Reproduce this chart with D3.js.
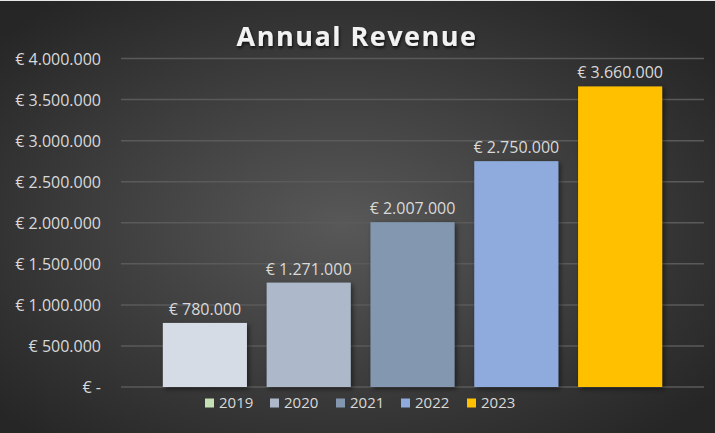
<!DOCTYPE html>
<html><head><meta charset="utf-8">
<script src="https://cdn.jsdelivr.net/npm/d3@7"></script>
<style>html,body{margin:0;padding:0;background:#333;}svg{display:block;}</style>
</head><body>
<script>
const years = ["2019","2020","2021","2022","2023"];
const revenue = [780000, 1271000, 2007000, 2750000, 3660000];
const barColors = ["#d6dce5","#adb9ca","#8497b0","#8faadc","#ffc000"];
const legendColors = ["#c5e0b4","#adb9ca","#8497b0","#8faadc","#ffc000"];
const yTicks = [0,500000,1000000,1500000,2000000,2500000,3000000,3500000,4000000];
const title = "Annual Revenue";

const W = 715, H = 433;
const svg = d3.select("body").append("svg").attr("width", W).attr("height", H);
const defs = svg.append("defs");
const rg = defs.append("radialGradient").attr("id","bg").attr("cx","48%").attr("cy","52%").attr("r","65%");
rg.append("stop").attr("offset","0%").attr("stop-color","#585858");
rg.append("stop").attr("offset","100%").attr("stop-color","#262626");
const sh = defs.append("filter").attr("id","sh").attr("x","-20%").attr("y","-20%").attr("width","150%").attr("height","150%");
sh.append("feDropShadow").attr("dx",2).attr("dy",2).attr("stdDeviation",2.5).attr("flood-color","#000").attr("flood-opacity",0.5);
const tsh = defs.append("filter").attr("id","tsh").attr("x","-10%").attr("y","-30%").attr("width","130%").attr("height","180%");
tsh.append("feDropShadow").attr("dx",1).attr("dy",2).attr("stdDeviation",1.5).attr("flood-color","#000").attr("flood-opacity",0.7);

svg.append("rect").attr("width",W).attr("height",H).attr("fill","url(#bg)");
svg.append("rect").attr("width",W).attr("height",1).attr("fill","#e8e8e8");

const y = d3.scaleLinear().domain([0,4000000]).range([387,58.5]);
const x = d3.scaleBand().domain(years).range([153,672]).paddingInner(0.19).paddingOuter(0.095);

const fmt = v => v === 0 ? "€ -" : "€ " + d3.format(",")(v).replace(/,/g,".");

// gridlines
svg.append("g").selectAll("line").data(yTicks).join("line")
  .attr("x1",121).attr("x2",704)
  .attr("y1",d=>y(d)).attr("y2",d=>y(d))
  .attr("stroke","#5a5a5a").attr("stroke-width",1.5);

// y axis labels
const yAxis = d3.axisLeft(y).tickValues(yTicks).tickFormat(fmt).tickSize(0).tickPadding(0);
const ga = svg.append("g").attr("transform","translate(101,0)").call(yAxis);
ga.select(".domain").remove();
ga.selectAll("text").attr("fill","#d9d9d9").attr("font-family","'Open Sans', sans-serif").attr("font-size","16px").attr("dy","0.35em");

// bars
svg.append("g").selectAll("rect").data(revenue).join("rect")
  .attr("x",(d,i)=>x(years[i])).attr("width",x.bandwidth())
  .attr("y",d=>y(d)).attr("height",d=>y(0)-y(d))
  .attr("fill",(d,i)=>barColors[i]).attr("filter","url(#sh)");

// data labels
svg.append("g").selectAll("text").data(revenue).join("text")
  .attr("x",(d,i)=>x(years[i])+x.bandwidth()/2).attr("y",d=>y(d)-8)
  .attr("text-anchor","middle").attr("fill","#d9d9d9")
  .attr("font-family","'Open Sans', sans-serif").attr("font-size","16px")
  .text(fmt);

// title
svg.append("text").attr("x",357).attr("y",46).attr("text-anchor","middle")
  .attr("fill","#f2f2f2").attr("font-family","'Open Sans', sans-serif").attr("font-weight","bold")
  .attr("font-size","27px").attr("letter-spacing","1.5px").attr("filter","url(#tsh)").text(title);

// legend
const lx = [205,270,336,401,467];
const lg = svg.append("g").selectAll("g").data(years).join("g")
  .attr("transform",(d,i)=>`translate(${lx[i]},403)`);
lg.append("rect").attr("x",0).attr("y",-4.5).attr("width",9).attr("height",9).attr("fill",(d,i)=>legendColors[i]);
lg.append("text").attr("x",14).attr("y",0).attr("dy","0.35em").attr("fill","#d9d9d9")
  .attr("font-family","'Open Sans', sans-serif").attr("font-size","15px").text(d=>d);
</script>
</body></html>
